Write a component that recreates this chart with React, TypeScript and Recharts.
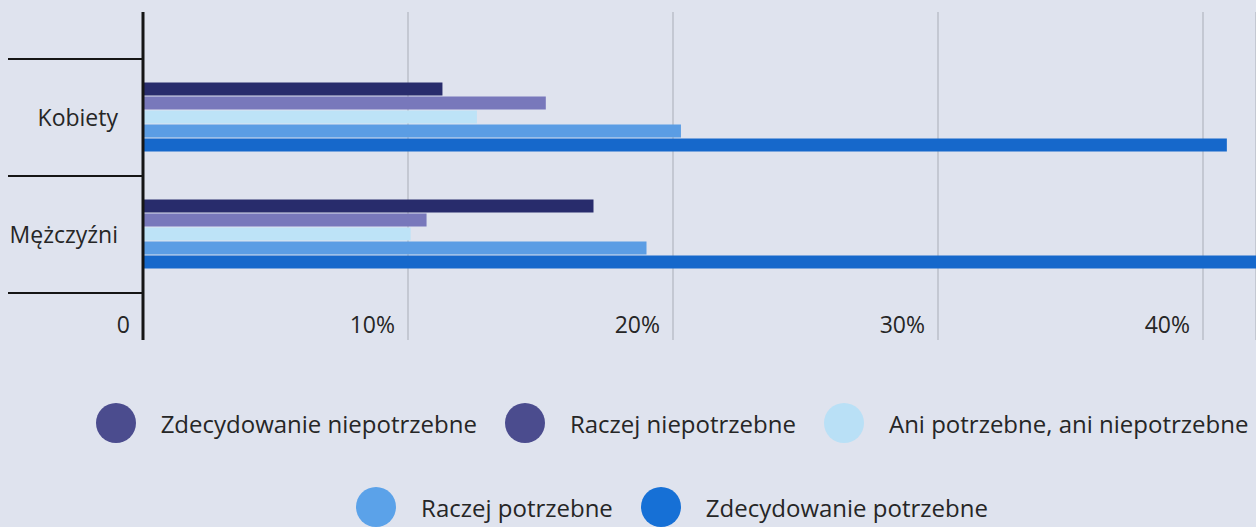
import { BarChart, Bar, XAxis, YAxis, CartesianGrid, Legend } from 'recharts'

const groups = ['Kobiety', 'Mężczyźni']
const zdecNiepotrzebne = [11.3, 17.0]
const raczejNiepotrzebne = [15.2, 10.7]
const aniAni = [12.6, 10.1]
const raczejPotrzebne = [20.3, 19.0]
const zdecPotrzebne = [40.9, 43.0]
const xTicks = [0, 10, 20, 30, 40]

const series = [
  { key: 'zn', name: 'Zdecydowanie niepotrzebne', values: zdecNiepotrzebne, bar: '#282c6c', dot: '#4b4c8e' },
  { key: 'rn', name: 'Raczej niepotrzebne', values: raczejNiepotrzebne, bar: '#7878bb', dot: '#4b4c8e' },
  { key: 'aa', name: 'Ani potrzebne, ani niepotrzebne', values: aniAni, bar: '#bde3f7', dot: '#b9e0f6' },
  { key: 'rp', name: 'Raczej potrzebne', values: raczejPotrzebne, bar: '#5b9de4', dot: '#5ba2e9' },
  { key: 'zp', name: 'Zdecydowanie potrzebne', values: zdecPotrzebne, bar: '#1668cb', dot: '#1670d6' },
]
const legendRows = [series.slice(0, 3), series.slice(3)]

const data = groups.map((g, i) => {
  const row: Record<string, string | number> = { group: g }
  series.forEach((s) => { row[s.key] = s.values[i] })
  return row
})

const FONT = '"Open Sans", "Noto Sans", sans-serif'
const INK = '#262626'

function GroupTick(props: any) {
  const { x, y, payload } = props
  const half = payload.offset ?? 58
  const right = x + 25
  return (
    <g>
      <line x1={8} x2={right} y1={y - half} y2={y - half} stroke="#151515" strokeWidth={2} />
      <line x1={8} x2={right} y1={y + half} y2={y + half} stroke="#151515" strokeWidth={2} />
      <text x={x} y={y} dy="0.35em" textAnchor="end" fontSize={23} fontFamily={FONT} fill={INK}>
        {payload.value}
      </text>
    </g>
  )
}

function PctTick(props: any) {
  const { x, y, payload } = props
  return (
    <text x={x - 13} y={y - 17} dy="0.35em" textAnchor="end" fontSize={23} fontFamily={FONT} fill={INK}>
      {payload.value === 0 ? '0' : `${payload.value}%`}
    </text>
  )
}

function LegendBox() {
  return (
    <div style={{ height: 186, paddingLeft: 88, paddingTop: 62, boxSizing: 'border-box', fontFamily: FONT, fontSize: 24, color: INK }}>
      {legendRows.map((row, r) => (
        <div key={r} style={{ display: 'flex', justifyContent: 'center', alignItems: 'center', height: 40, marginTop: r === 0 ? 0 : 44 }}>
          {row.map((s) => (
            <div key={s.key} style={{ display: 'flex', alignItems: 'center', margin: '0 14px' }}>
              <span style={{ width: 40, height: 40, borderRadius: 20, background: s.dot, display: 'inline-block' }} />
              <span style={{ marginLeft: 25, whiteSpace: 'nowrap' }}>{s.name}</span>
            </div>
          ))}
        </div>
      ))}
    </div>
  )
}

export default function App() {
  return (
    <div style={{ position: 'absolute', left: 0, top: 0, width: 1256, height: 527, background: '#dfe3ee', overflow: 'hidden' }}>
      <BarChart
        width={1256}
        height={527}
        data={data}
        layout="vertical"
        margin={{ top: 12, right: 0, bottom: 0, left: 0 }}
        barCategoryGap="20%"
        barGap={1}
      >
        <CartesianGrid horizontal={false} stroke="#a9adb7" strokeWidth={1} />
        <XAxis
          type="number"
          domain={[0, 42]}
          ticks={xTicks}
          allowDataOverflow
          axisLine={false}
          tickLine={false}
          tickSize={0}
          height={1}
          tick={<PctTick />}
        />
        <YAxis
          type="category"
          dataKey="group"
          width={143}
          padding={{ top: 47, bottom: 47 }}
          axisLine={{ stroke: '#151515', strokeWidth: 3 }}
          tickLine={false}
          tickSize={0}
          tickMargin={25}
          tick={<GroupTick />}
        />
        <Legend verticalAlign="bottom" content={() => <LegendBox />} />
        {series.map((s) => (
          <Bar key={s.key} dataKey={s.key} name={s.name} fill={s.bar} isAnimationActive={false} />
        ))}
      </BarChart>
    </div>
  )
}
